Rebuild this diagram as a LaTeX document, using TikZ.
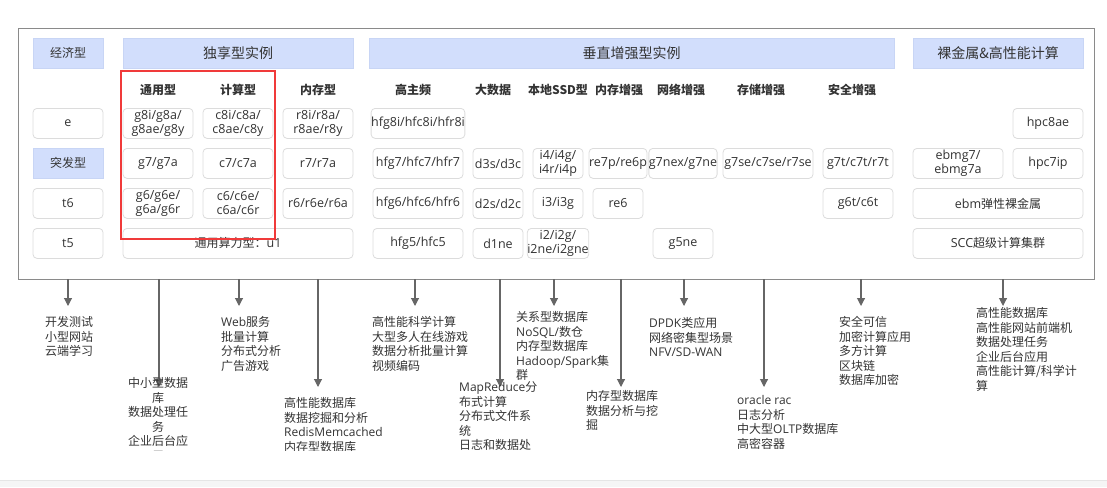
\documentclass[tikz,border=0pt]{standalone}
\usepackage{fontspec}
\setmainfont{Noto Sans CJK SC}
\newfontfamily\en{Open Sans}
\usetikzlibrary{arrows.meta}
\definecolor{hdrblue}{HTML}{D2DEFC}
\definecolor{hdrline}{HTML}{C8D5F5}
\definecolor{cellline}{HTML}{DCDCDC}
\definecolor{frameline}{HTML}{8A8A8A}
\definecolor{txt}{HTML}{333333}
\definecolor{arrowc}{HTML}{666666}
\definecolor{redbox}{HTML}{F03A3A}
\tikzset{
  cell/.style={draw=cellline, line width=0.8pt, rounded corners=4pt, fill=white,
    inner sep=0pt, outer sep=0pt, minimum height=30pt, align=center, text=txt,
    font=\en\fontsize{12.5}{14}\selectfont},
  hdr/.style={fill=hdrblue, draw=hdrline, line width=0.6pt, inner sep=0pt, outer sep=0pt,
    minimum height=30pt, text=txt, font=\fontsize{14}{16}\selectfont},
  subhdr/.style={fill=hdrblue, draw=hdrline, line width=0.6pt, inner sep=0pt, outer sep=0pt,
    minimum height=30pt, text=txt, font=\fontsize{12}{14}\selectfont},
  colh/.style={inner sep=0pt, text=txt, font=\bfseries\fontsize{12}{14}\selectfont},
  note/.style={anchor=north west, align=left, inner sep=0pt, text=txt,
    font=\fontsize{12}{14.5}\selectfont},
  arr/.style={draw=arrowc, line width=1.1pt, -{Triangle[width=8pt,length=8pt]}},
}
\begin{document}
\begin{tikzpicture}[x=1pt,y=-1pt]
\useasboundingbox (0,0) rectangle (1107,487);
% page bottom band
\fill[black!4] (0,480) rectangle (1107,487);
\draw[black!10, line width=0.8pt] (0,480) -- (1107,480);
% outer frame
\node[draw=frameline, line width=0.9pt, inner sep=0pt, minimum width=1076pt, minimum height=251pt] (frame) at (556,153.5) {};
% headers
\node[subhdr, minimum width=70pt] (h0) at (68,53.3) {经济型};
\node[hdr, minimum width=230pt] (h1) at (238,53.3) {独享型实例};
\node[hdr, minimum width=525pt] (h2) at (631.5,53.3) {垂直增强型实例};
\node[hdr, minimum width=170pt] (h3) at (998,53.3) {裸金属\&高性能计算};
% column headers
\node[colh] (cB) at (158,90) {通用型};
\node[colh] (cC) at (238,90) {计算型};
\node[colh] (cD) at (318,90) {内存型};
\node[colh] (cE) at (413,90) {高主频};
\node[colh] (cF) at (493,90) {大数据};
\node[colh] (cG) at (558,90) {本地SSD型};
\node[colh] (cH) at (619,90) {内存增强};
\node[colh] (cI) at (681,90) {网络增强};
\node[colh] (cJ) at (761,90) {存储增强};
\node[colh] (cK) at (852,90) {安全增强};
% row 1
\node[cell, minimum width=70pt] (a1) at (68,123.4) {e};
\node[cell, minimum width=70pt] (b1) at (158,123.4) {g8i/g8a/\\g8ae/g8y};
\node[cell, minimum width=70pt] (c1) at (238,123.4) {c8i/c8a/\\c8ae/c8y};
\node[cell, minimum width=70pt] (d1) at (318,123.4) {r8i/r8a/\\r8ae/r8y};
\node[cell, minimum width=90pt] (e1) at (418,123.4) {hfg8i/hfc8i/hfr8i};
\node[cell, minimum width=70pt] (m1) at (1048,123.4) {hpc8ae};
% row 2
\node[subhdr, minimum width=70pt] (a2) at (68,163.4) {突发型};
\node[cell, minimum width=70pt] (b2) at (158,163.4) {g7/g7a};
\node[cell, minimum width=70pt] (c2) at (238,163.4) {c7/c7a};
\node[cell, minimum width=70pt] (d2) at (318,163.4) {r7/r7a};
\node[cell, minimum width=90pt] (e2) at (418,163.4) {hfg7/hfc7/hfr7};
\node[cell, minimum width=50pt] (f2) at (498,163.4) {d3s/d3c};
\node[cell, minimum width=50pt] (g2) at (558,163.4) {i4/i4g/\\i4r/i4p};
\node[cell, minimum width=50pt] (hh2) at (618,163.4) {re7p/re6p};
\node[cell, minimum width=60pt] (i2) at (683,163.4) {g7nex/g7ne};
\node[cell, minimum width=90pt] (j2) at (768,163.4) {g7se/c7se/r7se};
\node[cell, minimum width=70pt] (k2) at (858,163.4) {g7t/c7t/r7t};
\node[cell, minimum width=90pt] (l2) at (958,163.4) {ebmg7/\\ebmg7a};
\node[cell, minimum width=70pt] (m2) at (1048,163.4) {hpc7ip};
% row 3
\node[cell, minimum width=70pt] (a3) at (68,203.4) {t6};
\node[cell, minimum width=70pt] (b3) at (158,203.4) {g6/g6e/\\g6a/g6r};
\node[cell, minimum width=70pt] (c3) at (238,203.4) {c6/c6e/\\c6a/c6r};
\node[cell, minimum width=70pt] (d3) at (318,203.4) {r6/r6e/r6a};
\node[cell, minimum width=90pt] (e3) at (418,203.4) {hfg6/hfc6/hfr6};
\node[cell, minimum width=50pt] (f3) at (498,203.4) {d2s/d2c};
\node[cell, minimum width=50pt] (g3) at (558,203.4) {i3/i3g};
\node[cell, minimum width=50pt] (hh3) at (618,203.4) {re6};
\node[cell, minimum width=70pt] (k3) at (858,203.4) {g6t/c6t};
\node[cell, minimum width=170pt] (l3) at (998,203.4) {ebm{\rmfamily\fontsize{12}{14}\selectfont 弹性裸金属}};
% row 4
\node[cell, minimum width=70pt] (a4) at (68,243.4) {t5};
\node[cell, minimum width=230pt] (b4) at (238,243.4) {{\rmfamily\fontsize{12}{14}\selectfont 通用算力型：}u1};
\node[cell, minimum width=90pt] (e4) at (418,243.4) {hfg5/hfc5};
\node[cell, minimum width=50pt] (f4) at (498,243.4) {d1ne};
\node[cell, minimum width=50pt] (g4) at (558,243.4) {i2/i2g/\\i2ne/i2gne};
\node[cell, minimum width=60pt] (i4) at (683,243.4) {g5ne};
\node[cell, minimum width=170pt] (l4) at (998,243.4) {SCC{\rmfamily\fontsize{12}{14}\selectfont 超级计算集群}};
% red highlight
\node[draw=redbox, line width=2pt, inner sep=0pt, minimum width=154pt, minimum height=168pt] (hl) at (198,155) {};
% arrows
\foreach \n/\x/\y in {1/68/306, 2/159/387, 3/239/306, 4/318/387, 5/415/306, 6/500/387,
                      7/554/306, 8/621/387, 9/684/306, 10/764/387, 11/861/306, 12/1003/306} {
  \coordinate (s\n) at (\x,279);
  \coordinate (t\n) at (\x,\y);
  \draw[arr] (s\n) -- (t\n);
}
% notes
\begin{scope}
\clip (0,280) rectangle (1107,450.5);
\node[note] (n1) at (45,316.5) {开发测试\\小型网站\\云端学习};
\node[note, anchor=north, align=center] (n2) at (158,377.5) {中小型数据\\库\\数据处理任\\务\\企业后台应\\用};
\node[note] (n3) at (221,316.5) {{\en Web}服务\\批量计算\\分布式分析\\广告游戏};
\node[note] (n4) at (284,397.5) {高性能数据库\\数据挖掘和分析\\{\en RedisMemcached}\\内存型数据库};
\node[note] (n5) at (372,316.5) {高性能科学计算\\大型多人在线游戏\\数据分析批量计算\\视频编码};
\node[note] (n6) at (459,381.5) {{\en MapReduce}分\\布式计算\\分布式文件系\\统\\日志和数据处};
\node[note] (n7) at (516,311.5) {关系型数据库\\{\en NoSQL/}数仓\\内存型数据库\\{\en Hadoop/Spark}集\\群};
\node[note] (n8) at (586,390.5) {内存型数据库\\数据分析与挖\\掘};
\node[note] (n9) at (649,317.5) {{\en DPDK}类应用\\网络密集型场景\\{\en NFV/SD-WAN}};
\node[note] (n10) at (737,395.5) {{\en oracle rac}\\日志分析\\中大型{\en OLTP}数据库\\高密容器};
\node[note] (n11) at (839,316.5) {安全可信\\加密计算应用\\多方计算\\区块链\\数据库加密};
\node[note] (n12) at (976,307.5) {高性能数据库\\高性能网站前端机\\数据处理任务\\企业后台应用\\高性能计算/科学计\\算};
\end{scope}
\end{tikzpicture}
\end{document}
